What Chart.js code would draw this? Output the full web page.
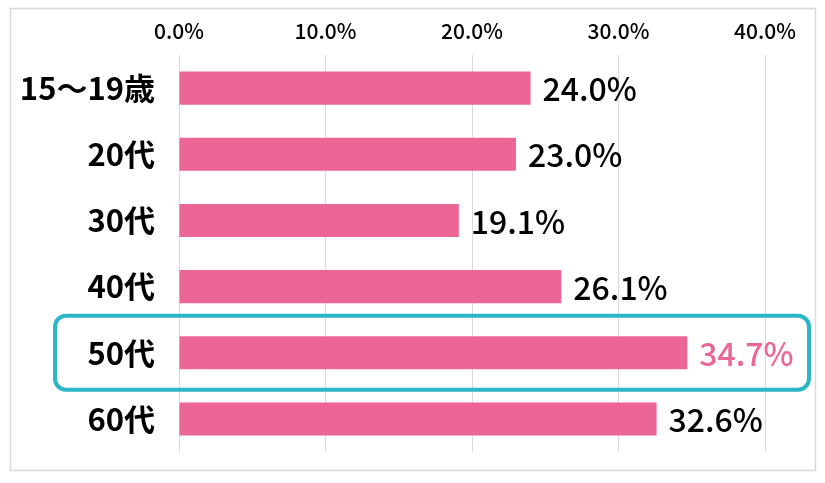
<!DOCTYPE html>
<html>
<head>
<meta charset="utf-8">
<script src="https://cdn.jsdelivr.net/npm/chart.js@4"></script>
<style>
  body { margin: 0; background: #fff; }
</style>
</head>
<body>
<canvas id="chart" width="825" height="483"></canvas>
<script>
const categories = ["15～19歳", "20代", "30代", "40代", "50代", "60代"];
const values = [24.0, 23.0, 19.1, 26.1, 34.7, 32.6];
const highlightIndex = 4;

const pink = "#EC6597";
const teal = "#2BB6C7";
const FONT = "'Noto Sans CJK JP', 'Noto Sans', sans-serif";

// 値ラベル（バーの右側）
const valueLabels = {
  id: "valueLabels",
  afterDatasetsDraw(chart) {
    const ctx = chart.ctx;
    const meta = chart.getDatasetMeta(0);
    ctx.save();
    ctx.font = "500 32px " + FONT;
    ctx.textBaseline = "middle";
    ctx.textAlign = "left";
    meta.data.forEach((bar, i) => {
      ctx.fillStyle = i === highlightIndex ? pink : "#000";
      ctx.fillText(values[i].toFixed(1) + "%", bar.x + 12, bar.y + 1);
    });
    ctx.restore();
  }
};

// 外枠と強調枠
const frame = {
  id: "frame",
  beforeDraw(chart) {
    const ctx = chart.ctx;
    ctx.save();
    ctx.strokeStyle = "#d9d9d9";
    ctx.lineWidth = 1.5;
    ctx.strokeRect(10.5, 8.5, 805, 462);
    ctx.restore();
  },
  afterDraw(chart) {
    const ctx = chart.ctx;
    const area = chart.chartArea;
    const y = chart.scales.y.getPixelForValue(highlightIndex);
    const left = area.left - 124, right = area.right + 44;
    const top = y - 37, bottom = y + 37;
    ctx.save();
    ctx.strokeStyle = teal;
    ctx.lineWidth = 4;
    ctx.beginPath();
    ctx.roundRect(left, top, right - left, bottom - top, 11);
    ctx.stroke();
    ctx.restore();
  }
};

new Chart(document.getElementById("chart").getContext("2d"), {
  type: "bar",
  data: {
    labels: categories,
    datasets: [{
      data: values,
      backgroundColor: pink,
      borderWidth: 0,
      categoryPercentage: 1,
      barPercentage: 0.5
    }]
  },
  options: {
    responsive: false,
    animation: false,
    indexAxis: "y",
    layout: { padding: { top: 10, right: 60, bottom: 31, left: 0 } },
    plugins: {
      legend: { display: false },
      tooltip: { enabled: false }
    },
    scales: {
      x: {
        position: "top",
        min: 0,
        max: 40,
        afterFit: s => { s.height = 45; },
        ticks: {
          stepSize: 10,
          padding: 11,
          color: "#000",
          font: { family: FONT, size: 21, weight: "500" },
          callback: v => v.toFixed(1) + "%"
        },
        grid: { color: "#d9d9d9", drawTicks: false, lineWidth: 1 },
        border: { display: false }
      },
      y: {
        afterFit: s => {
          s.width = 179;
          s.paddingTop = 0;
          s.paddingBottom = 0;
        },
        ticks: {
          padding: 24,
          color: "#000",
          font: { family: FONT, size: 31, weight: "bold" }
        },
        grid: { display: false, drawTicks: false },
        border: { display: false }
      }
    }
  },
  plugins: [valueLabels, frame]
});
</script>
</body>
</html>
